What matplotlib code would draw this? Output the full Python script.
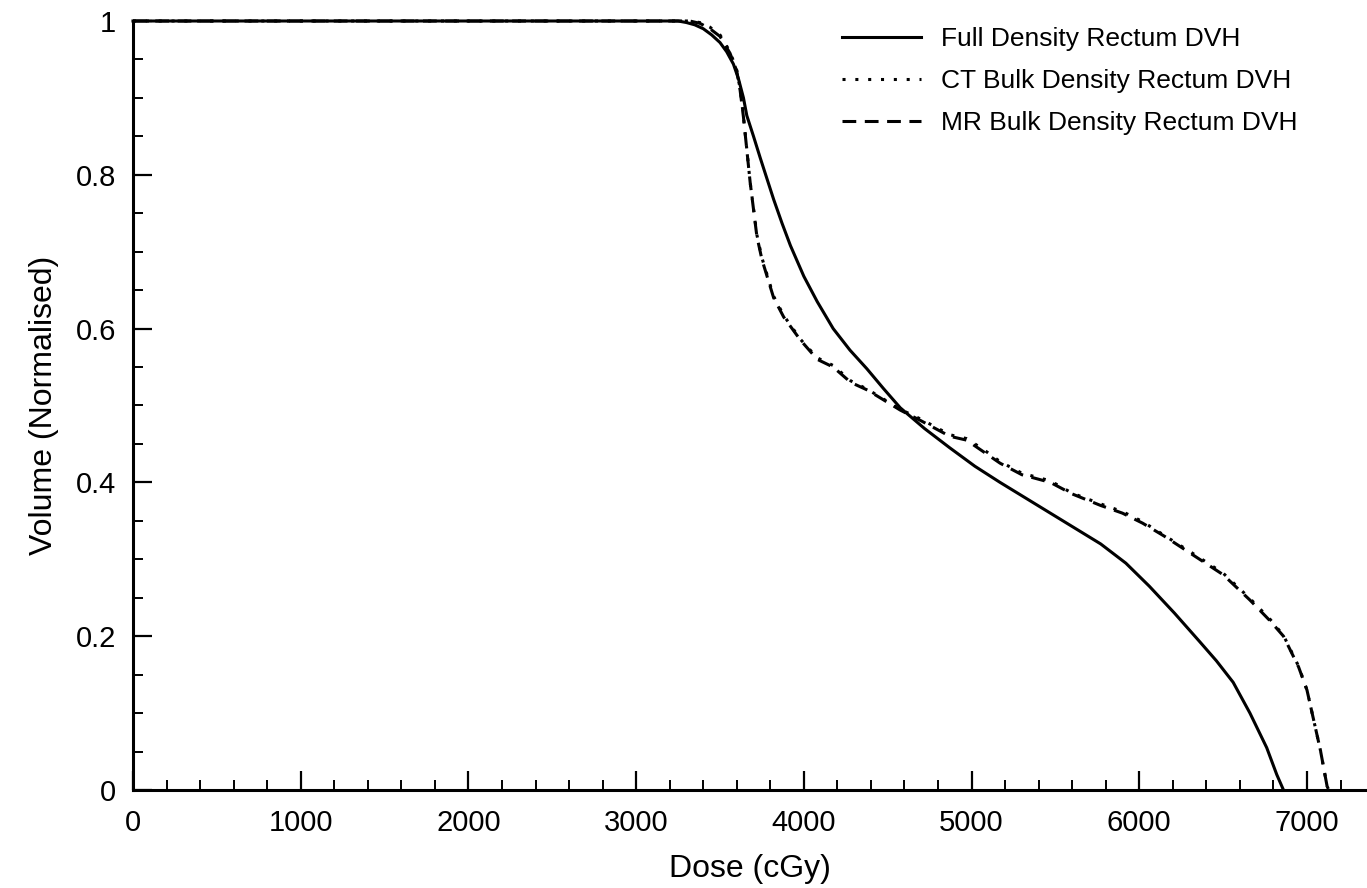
import matplotlib.pyplot as plt
from matplotlib.ticker import MultipleLocator, FuncFormatter

# DVH curves (dose in cGy, volume normalised)
full_dose = [0, 3250, 3300, 3350, 3400, 3450, 3500, 3540, 3580, 3610, 3640, 3660,
             3700, 3740, 3780, 3820, 3870, 3920, 4000, 4080, 4175, 4275, 4375,
             4475, 4575, 4720, 4870, 5020, 5170, 5320, 5470, 5620, 5770, 5920,
             6060, 6210, 6360, 6460, 6560, 6660, 6760, 6820, 6860]
full_vol = [1.0, 1.0, 0.998, 0.995, 0.99, 0.982, 0.972, 0.96, 0.944, 0.925, 0.9,
            0.877, 0.85, 0.822, 0.795, 0.768, 0.737, 0.708, 0.668, 0.635, 0.60,
            0.572, 0.548, 0.522, 0.497, 0.47, 0.445, 0.421, 0.40, 0.38, 0.36,
            0.34, 0.32, 0.295, 0.265, 0.23, 0.193, 0.168, 0.14, 0.10, 0.055,
            0.02, 0.0]

ct_dose = [0, 3250, 3320, 3380, 3440, 3500, 3560, 3600, 3620, 3640, 3680, 3720,
           3750, 3820, 3880, 3980, 4080, 4175, 4280, 4380, 4575, 4700, 4870, 4970,
           5070, 5170, 5300, 5470, 5600, 5770, 5900, 6020, 6150, 6360, 6500, 6660,
           6780, 6860, 6950, 7000, 7080, 7120, 7130]
ct_vol = [1.0, 1.0, 1.0, 0.998, 0.992, 0.982, 0.96, 0.936, 0.912, 0.876, 0.79,
          0.722, 0.692, 0.642, 0.617, 0.586, 0.562, 0.552, 0.532, 0.521, 0.495,
          0.482, 0.462, 0.457, 0.443, 0.427, 0.412, 0.402, 0.386, 0.372, 0.362,
          0.349, 0.331, 0.302, 0.282, 0.249, 0.222, 0.201, 0.161, 0.13, 0.052,
          0.005, 0.0]

mr_dose = [0, 3250, 3320, 3380, 3440, 3500, 3560, 3600, 3620, 3640, 3680, 3720,
           3750, 3820, 3880, 3980, 4080, 4175, 4280, 4380, 4575, 4700, 4870, 4970,
           5070, 5170, 5300, 5470, 5600, 5770, 5900, 6020, 6150, 6360, 6500, 6660,
           6780, 6860, 6950, 7000, 7080, 7120, 7130]
mr_vol = [1.0, 1.0, 1.0, 0.997, 0.99, 0.98, 0.958, 0.935, 0.91, 0.875, 0.79, 0.72,
          0.69, 0.64, 0.615, 0.585, 0.56, 0.55, 0.53, 0.52, 0.494, 0.48, 0.46,
          0.455, 0.44, 0.425, 0.41, 0.40, 0.385, 0.37, 0.36, 0.347, 0.33, 0.30,
          0.28, 0.247, 0.22, 0.20, 0.16, 0.13, 0.052, 0.005, 0.0]

labels = ["Full Density Rectum DVH", "CT Bulk Density Rectum DVH",
          "MR Bulk Density Rectum DVH"]

plt.rcParams["font.family"] = ["Liberation Sans", "DejaVu Sans"]

fig = plt.figure(figsize=(13.67, 8.88), dpi=100)
ax = fig.add_axes([133 / 1367, 98 / 888, 1 - 133 / 1367, (790 - 21) / 888])

lw = 2.2
ax.plot(full_dose, full_vol, color="black", lw=lw, ls="-", label=labels[0],
        clip_on=False)
ax.plot(ct_dose, ct_vol, color="black", lw=lw, ls=(0, (1, 3.2)), label=labels[1],
        clip_on=False)
ax.plot(mr_dose, mr_vol, color="black", lw=lw, ls=(0, (4.5, 2.8)), label=labels[2],
        clip_on=False)

ax.set_xlim(0, 7358)
ax.set_ylim(0, 1)

for side in ["top", "right"]:
    ax.spines[side].set_visible(False)
for side in ["left", "bottom"]:
    ax.spines[side].set_linewidth(2.2)

ax.xaxis.set_major_locator(MultipleLocator(1000))
ax.xaxis.set_minor_locator(MultipleLocator(200))
ax.yaxis.set_major_locator(MultipleLocator(0.2))
ax.yaxis.set_minor_locator(MultipleLocator(0.05))
ax.yaxis.set_major_formatter(FuncFormatter(lambda v, p: "%g" % round(v, 2)))
ax.xaxis.set_major_formatter(FuncFormatter(lambda v, p: "%d" % v))

ax.tick_params(which="major", direction="in", length=14, width=1.6,
               labelsize=21)
ax.tick_params(which="minor", direction="in", length=7, width=1.4)
ax.tick_params(axis="x", which="major", pad=14)
ax.tick_params(axis="y", which="major", pad=12)

ax.set_xlabel("Dose (cGy)", fontsize=23, labelpad=12)
ax.set_ylabel("Volume (Normalised)", fontsize=23, labelpad=12)

ax.legend(loc="upper left", bbox_to_anchor=(842 / 1367, 1 - 27 / 888),
          bbox_transform=fig.transFigure, frameon=False, fontsize=19,
          handlelength=3.0, handletextpad=0.75, labelspacing=0.68,
          borderpad=0, borderaxespad=0)

fig.savefig("out.png", dpi=100)
